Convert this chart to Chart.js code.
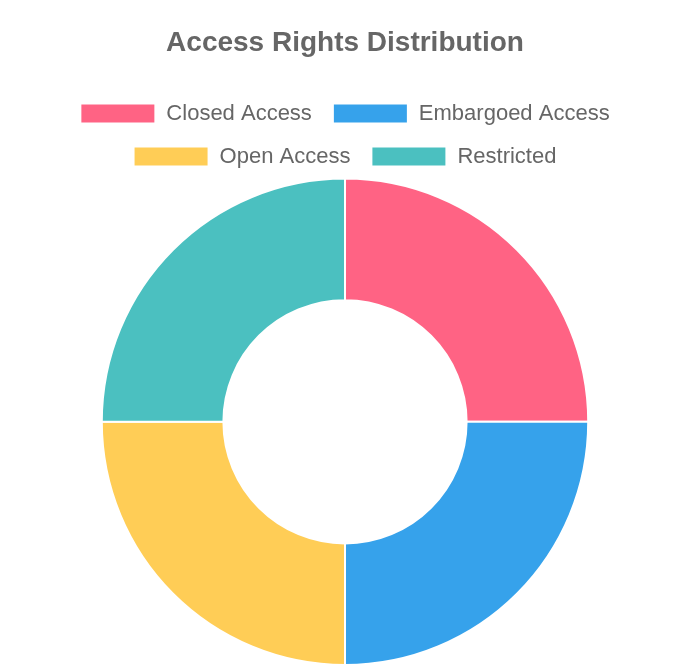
<!DOCTYPE html>
<html>
<head>
<meta charset="utf-8">
<script src="https://cdn.jsdelivr.net/npm/chart.js@4"></script>
<style>
  html, body { margin: 0; padding: 0; background: #fff; }
  #wrap { width: 690px; height: 668px; }
</style>
</head>
<body>
<div id="wrap"><canvas id="chart"></canvas></div>
<script>
const labels = ["Closed Access", "Embargoed Access", "Open Access", "Restricted"];
const values = [25, 25, 25, 25];
const colours = ["rgb(255,99,132)", "rgb(54,162,235)", "rgb(255,205,86)", "rgb(75,192,192)"];

new Chart(document.getElementById("chart"), {
  type: "doughnut",
  data: {
    labels,
    datasets: [{
      data: values,
      backgroundColor: colours,
      borderColor: "#fff",
      borderWidth: 2
    }]
  },
  options: {
    maintainAspectRatio: false,
    animation: false,
    cutout: "50%",
    layout: { padding: { top: 4, bottom: 2 } },
    plugins: {
      title: {
        display: true,
        text: "Access Rights Distribution",
        color: "#666",
        font: { family: "Helvetica, Arial, 'Liberation Sans', sans-serif", size: 28, weight: "bold" },
        padding: { top: 22, bottom: 22 }
      },
      legend: {
        position: "top",
        labels: {
          color: "#666",
          boxWidth: 75,
          boxHeight: 20,
          padding: 21,
          font: { family: "Helvetica, Arial, 'Liberation Sans', sans-serif", size: 22 }
        }
      }
    }
  }
});
</script>
</body>
</html>
